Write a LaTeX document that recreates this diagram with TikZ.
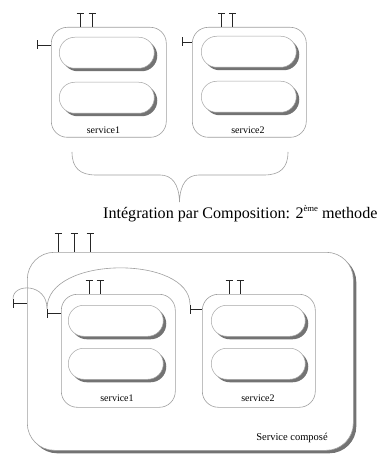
\documentclass[tikz,border=0pt]{standalone}
\usepackage{fontspec}
\setmainfont{Liberation Serif}
\usetikzlibrary{shadows}

\tikzset{
  frame/.style={draw=gray!75, fill=white, line width=0.6pt, rounded corners=16pt, inner sep=0pt, anchor=north west},
  pill/.style={draw=gray!70, fill=white, line width=0.5pt, rounded corners=15.5pt, inner sep=0pt,
               minimum width=95pt, minimum height=31pt, anchor=north west,
               drop shadow={shadow xshift=3pt, shadow yshift=-3pt, fill=black!55, opacity=1}},
  heavy/.style={drop shadow={shadow xshift=3pt, shadow yshift=-3pt, fill=black!55, opacity=1}},
  wire/.style={draw=gray!75, line width=0.6pt},
  plug/.style={draw=black!85, line width=0.75pt},
  lbl/.style={font=\fontsize{10}{12}\selectfont, inner sep=0pt}
}

% provided interface: a stem rising from a box with a crossbar on top
\newcommand\provided[2]{%
  \draw[plug] (#1) -- (#1 |- #2.north);
  \draw[plug] ([xshift=-3.5pt]#1) -- ([xshift=3.5pt]#1);}
% required interface: a bar on the left joined to a box
\newcommand\required[2]{%
  \draw[plug] (#1) -- (#1 -| #2.west);
  \draw[plug] ([yshift=4.5pt]#1) -- ([yshift=-4.5pt]#1);}

\begin{document}
\begin{tikzpicture}[x=1pt, y=-1pt]
\useasboundingbox (0,0) rectangle (384,454);

% ---------- two separate services ----------
\node[frame, minimum width=115pt, minimum height=110pt] (sA) at (51,27) {};
\node[pill] (sA1) at (59,37) {};
\node[pill] (sA2) at (59,82) {};
\node[lbl] (sAl) at (103.5,130) {service1};

\node[frame, minimum width=114pt, minimum height=110pt] (sB) at (192,27) {};
\node[pill] (sB1) at (201,36) {};
\node[pill] (sB2) at (201,81) {};
\node[lbl] (sBl) at (248,130) {service2};

\coordinate (pA1) at (80,13);
\coordinate (pA2) at (92,13);
\coordinate (pB1) at (221.5,13);
\coordinate (pB2) at (232.5,13);
\provided{pA1}{sA}
\provided{pA2}{sA}
\provided{pB1}{sB}
\provided{pB2}{sB}

\coordinate (rA) at (37,45);
\coordinate (rB) at (182,42);
\required{rA}{sA}
\required{rB}{sB}

% brace
\coordinate (brL) at (72,152);
\coordinate (brR) at (288,152);
\coordinate (brT) at (179.5,202);
\draw[wire] (brL) .. controls (72,168) and (80,175) .. (96,175)
  -- (160,175) .. controls (172,175) and (179,184) .. (brT)
  .. controls (180,184) and (187,175) .. (199,175)
  -- (264,175) .. controls (280,175) and (288,168) .. (brR);

\node[anchor=base west, inner sep=0pt, font=\fontsize{16.1}{19}\selectfont] (cap) at (103,218)
  {Intégration par Composition: 2\raisebox{0.42em}{\fontsize{8.7}{9}\selectfont ème} methode};

% ---------- composed service ----------
\node[frame, heavy, rounded corners=27pt, minimum width=326pt, minimum height=198pt] (C) at (27,252) {};

\node[frame, minimum width=114pt, minimum height=113pt] (sC) at (61,294) {};
\node[pill] (sC1) at (68,305) {};
\node[pill] (sC2) at (68,348) {};
\node[lbl] (sCl) at (117,398) {service1};

\node[frame, minimum width=113pt, minimum height=113pt] (sD) at (202,294) {};
\node[pill, minimum width=94pt] (sD1) at (211,305) {};
\node[pill, minimum width=94pt] (sD2) at (211,348) {};
\node[lbl] (sDl) at (258,398) {service2};

\node[lbl, font=\fontsize{10.5}{12}\selectfont] (Cl) at (292,438) {Service composé};

\coordinate (pC1) at (58,233);
\coordinate (pC2) at (74,233);
\coordinate (pC3) at (90,233);
\provided{pC1}{C}
\provided{pC2}{C}
\provided{pC3}{C}

\coordinate (pD1) at (89,280);
\coordinate (pD2) at (100,280);
\coordinate (pE1) at (229,280);
\coordinate (pE2) at (240,280);
\provided{pD1}{sC}
\provided{pD2}{sC}
\provided{pE1}{sD}
\provided{pE2}{sD}

\coordinate (rC) at (13,303);
\coordinate (rD) at (47,313);
\coordinate (rE) at (190,309);
\required{rC}{C}
\required{rD}{sC}
\required{rE}{sD}

% delegation arcs between the required interfaces
\draw[wire] ([yshift=4.5pt]rC) .. controls (13,283) and (47,283) .. ([yshift=4.5pt]rD);
\draw[wire] ([yshift=4.5pt]rD) .. controls (47,255) and (190,255) .. ([yshift=4.5pt]rE);

\end{tikzpicture}
\end{document}
